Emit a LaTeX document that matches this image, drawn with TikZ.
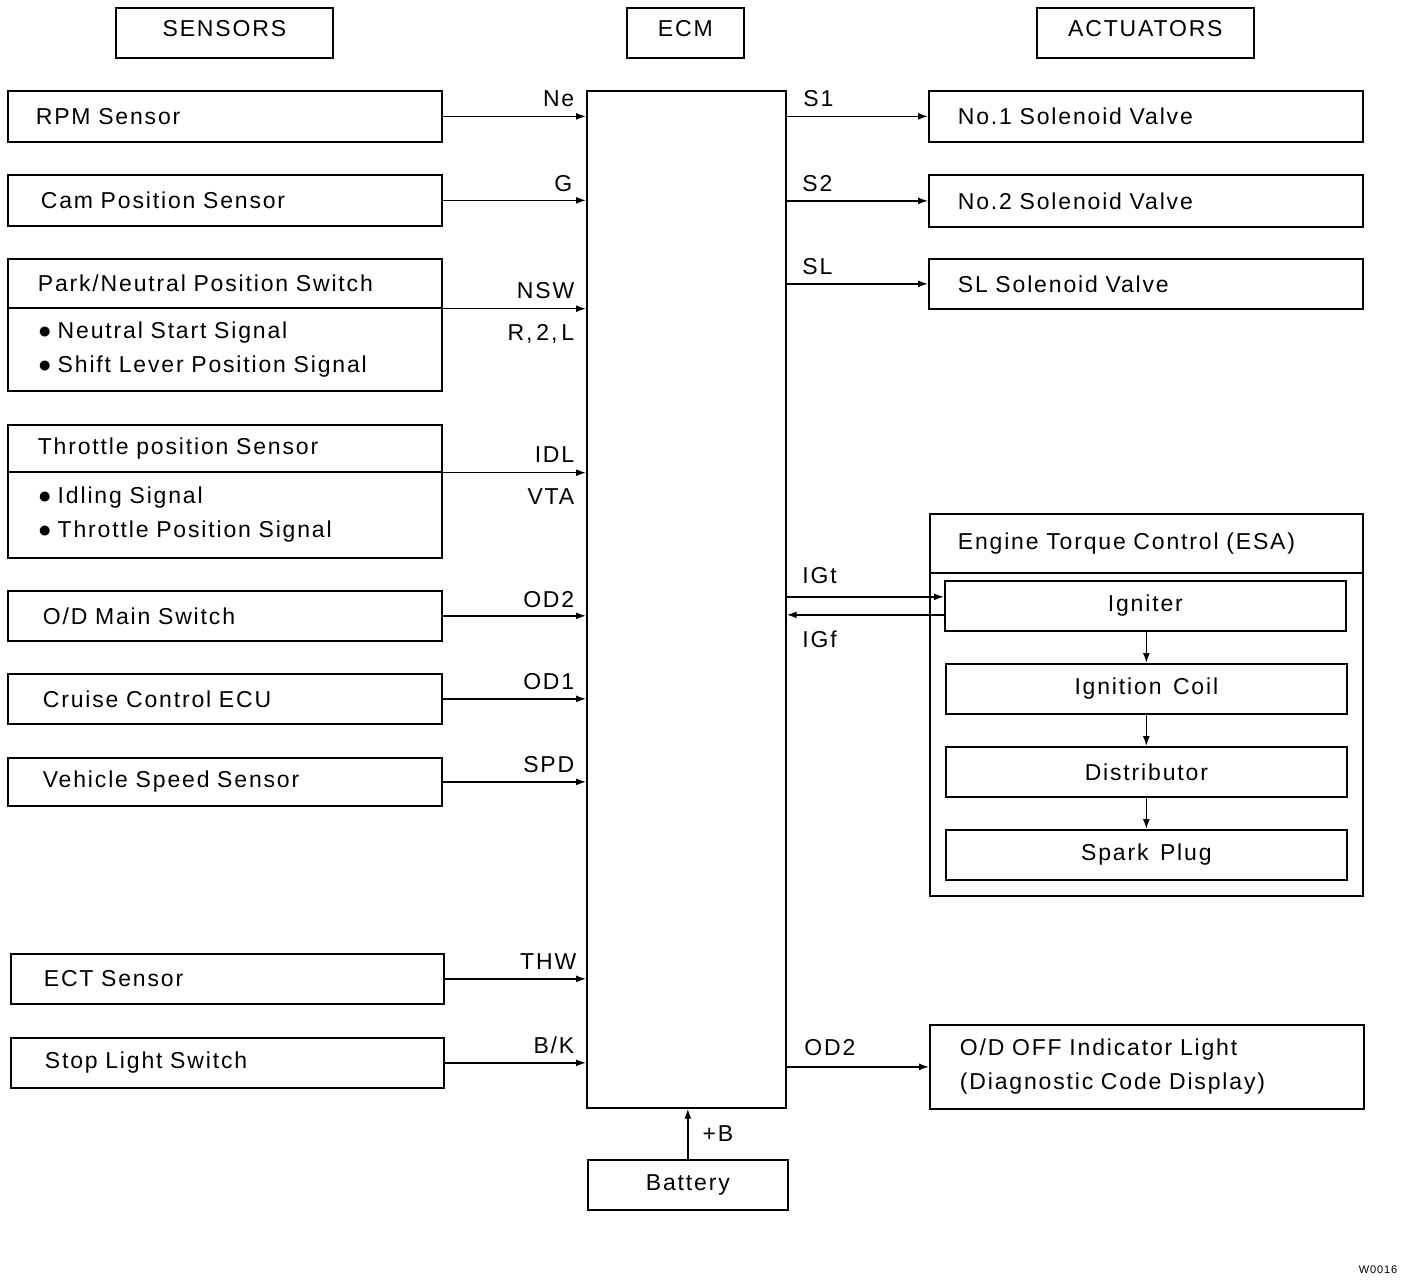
\documentclass[tikz,border=0pt]{standalone}
\usepackage{fontspec}
\setmainfont{Liberation Sans}[LetterSpace=8,WordSpace=1.4]
\usetikzlibrary{arrows.meta}
\begin{document}
\begin{tikzpicture}[x=1pt,y=-1pt,
  font=\fontsize{23}{27}\selectfont,
  every path/.style={line width=1.7pt},
  bx/.style={draw, line width=1.7pt, anchor=north west, inner ysep=0pt, inner xsep=29pt, align=left},
  cbx/.style={draw, line width=1.7pt, anchor=north west, inner sep=0pt, align=center},
  arr/.style={-{Latex[length=10pt,width=7pt]}, line width=1.5pt},
  lab/.style={inner sep=0pt},
]
\useasboundingbox[fill=white] (0,0) rectangle (1408,1280);

% headers
\node[cbx, minimum width=217pt, minimum height=50pt, text depth=9pt] (sens) at (115,7) {SENSORS};
\node[cbx, minimum width=117pt, minimum height=50pt, text depth=9pt] (ecmh) at (626,7) {ECM};
\node[cbx, minimum width=217pt, minimum height=50pt, text depth=9pt] (act) at (1036,7) {ACTUATORS};

% ECM
\node[cbx, minimum width=199pt, minimum height=1017pt] (ecm) at (586,90) {};

% sensors
\node[bx, minimum height=51pt, inner xsep=28pt, text width=378pt] (rpm) at (7,90) {RPM Sensor};
\node[bx, minimum height=51pt, inner xsep=33pt, text width=368pt] (cam) at (7,174) {Cam Position Sensor};
\node[bx, minimum height=49pt, inner xsep=30pt, text width=374pt] (pna) at (7,258) {Park/Neutral Position Switch};
\node[bx, text width=374pt, minimum height=83pt, inner xsep=30pt, align=left, font=\fontsize{23}{34}\selectfont] (pnb) at (7,307) {●\hspace{6pt}Neutral Start Signal\\●\hspace{6pt}Shift Lever Position Signal};
\node[bx, text width=374pt, minimum height=47pt, inner xsep=30pt] (tpa) at (7,424) {Throttle position Sensor};
\node[bx, text width=374pt, minimum height=86pt, inner xsep=30pt, align=left, font=\fontsize{23}{34}\selectfont] (tpb) at (7,471) {●\hspace{6pt}Idling Signal\\●\hspace{6pt}Throttle Position Signal};
\node[bx, text width=364pt, minimum height=50pt, inner xsep=35pt] (odm) at (7,590) {O/D Main Switch};
\node[bx, text width=364pt, minimum height=50pt, inner xsep=35pt] (cru) at (7,673) {Cruise Control ECU};
\node[bx, text width=364pt, minimum height=48pt, inner xsep=35pt] (vss) at (7,757) {Vehicle Speed Sensor};
\node[bx, text width=367pt, minimum height=50pt, inner xsep=33pt] (ect) at (10,953) {ECT Sensor};
\node[bx, text width=365pt, minimum height=50pt, inner xsep=34pt] (stop) at (10,1037) {Stop Light Switch};

% actuators
\node[bx, text width=376pt, minimum height=51pt] (no1) at (928,90) {No.1 Solenoid Valve};
\node[bx, text width=376pt, minimum height=52pt] (no2) at (928,174) {No.2 Solenoid Valve};
\node[bx, text width=376pt, minimum height=50pt] (slv) at (928,258) {SL Solenoid Valve};
\node[bx, text width=377pt, minimum height=59pt, inner xsep=28pt] (esat) at (929,513) {Engine Torque Control (ESA)};
\node[cbx, minimum width=433pt, minimum height=323pt] (esab) at (929,572) {};
\node[cbx, minimum width=401pt, minimum height=50pt] (ign) at (944,580) {Igniter};
\node[cbx, minimum width=401pt, minimum height=50pt] (coil) at (945,663) {Ignition Coil};
\node[cbx, minimum width=401pt, minimum height=50pt] (dist) at (945,746) {Distributor};
\node[cbx, minimum width=401pt, minimum height=50pt] (spark) at (945,829) {Spark Plug};
\node[bx, text width=374pt, minimum height=84pt, inner xsep=30pt, font=\fontsize{23}{34}\selectfont] (odoff) at (929,1024) {O/D OFF Indicator Light\\(Diagnostic Code Display)};

% battery
\node[cbx, minimum width=200pt, minimum height=50pt] (bat) at (587,1159) {Battery};

% sensor connectors
\draw[arr] (rpm.east) -- (rpm.east -| ecm.west) node[lab, pos=1, anchor=base east, xshift=-11pt, yshift=10pt] {Ne};
\draw[arr] (cam.east) -- (cam.east -| ecm.west) node[lab, pos=1, anchor=base east, xshift=-13pt, yshift=9pt] {G};
\draw[arr] (pna.south east) -- (pna.south east -| ecm.west)
  node[lab, pos=1, anchor=base east, xshift=-11pt, yshift=10pt] {NSW}
  node[lab, pos=1, anchor=north east, xshift=-11pt, yshift=-15pt] {R,\hspace{4pt}2,\hspace{4pt}L};
\draw[arr] (tpa.south east) -- (tpa.south east -| ecm.west)
  node[lab, pos=1, anchor=base east, xshift=-11pt, yshift=10pt] {IDL}
  node[lab, pos=1, anchor=north east, xshift=-11pt, yshift=-15pt] {VTA};
\draw[arr] (odm.east) -- (odm.east -| ecm.west) node[lab, pos=1, anchor=base east, xshift=-11pt, yshift=8pt] {OD2};
\draw[arr] (cru.east) -- (cru.east -| ecm.west) node[lab, pos=1, anchor=base east, xshift=-11pt, yshift=9pt] {OD1};
\draw[arr] (vss.east) -- (vss.east -| ecm.west) node[lab, pos=1, anchor=base east, xshift=-11pt, yshift=9pt] {SPD};
\draw[arr] (ect.east) -- (ect.east -| ecm.west) node[lab, pos=1, anchor=base east, xshift=-9pt, yshift=9pt] {THW};
\draw[arr] (stop.east) -- (stop.east -| ecm.west) node[lab, pos=1, anchor=base east, xshift=-11pt, yshift=9pt] {B/K};

% actuator connectors
\draw[arr] (no1.west -| ecm.east) -- (no1.west) node[lab, pos=0, anchor=base west, xshift=16pt, yshift=10pt] {S1};
\draw[arr] (no2.west -| ecm.east) -- (no2.west) node[lab, pos=0, anchor=base west, xshift=15pt, yshift=9pt] {S2};
\draw[arr] (slv.west -| ecm.east) -- (slv.west) node[lab, pos=0, anchor=base west, xshift=15pt, yshift=9pt] {SL};
\draw[arr] ([yshift=9pt]ign.west -| ecm.east) -- ([yshift=9pt]ign.west) node[lab, pos=0, anchor=base west, xshift=15pt, yshift=13pt] {IGt};
\draw[arr] ([yshift=-9pt]ign.west) -- ([yshift=-9pt]ign.west -| ecm.east) node[lab, pos=1, anchor=north west, xshift=15pt, yshift=-15pt] {IGf};
\draw[arr] (ign.south -| coil.north) -- (coil.north);
\draw[arr] (coil.south) -- (dist.north);
\draw[arr] (dist.south) -- (spark.north);
\draw[arr] (odoff.west -| ecm.east) -- (odoff.west) node[lab, pos=0, anchor=base west, xshift=17pt, yshift=11pt] {OD2};

% battery
\draw[arr] (bat.north) -- (bat.north |- ecm.south) node[lab, midway, anchor=west, xshift=14pt] {+B};

% footer
\node[lab, anchor=east, font=\fontsize{11}{13}\selectfont] (code) at (1398,1270) {W0016};
\end{tikzpicture}
\end{document}
